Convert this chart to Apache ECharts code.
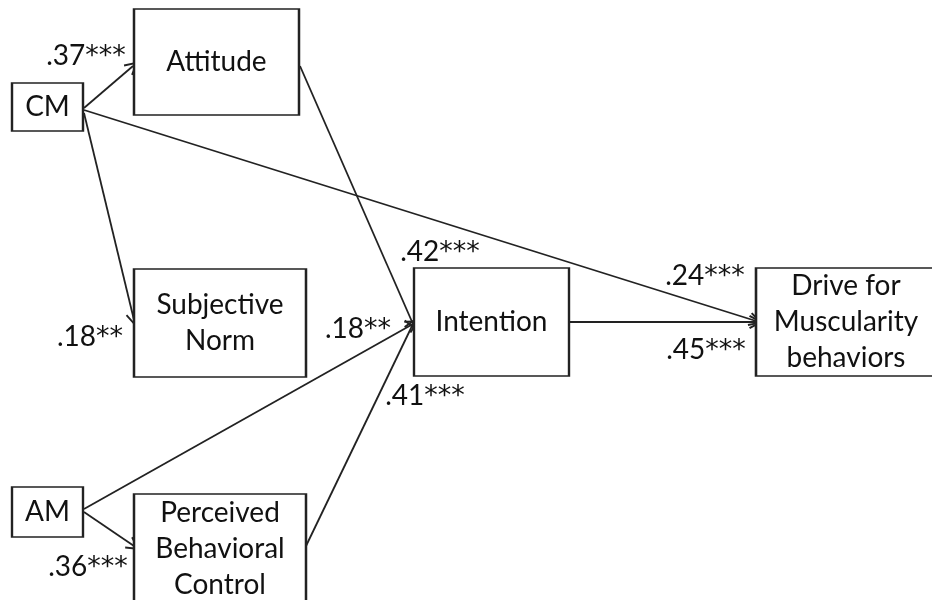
<!DOCTYPE html>
<html>
<head>
<meta charset="utf-8">
<script src="https://cdn.jsdelivr.net/npm/echarts@6/dist/echarts.min.js"></script>
<style>
  html, body { margin: 0; padding: 0; background: #fff; }
  #main { width: 932px; height: 600px; }
</style>
</head>
<body>
<div id="main"></div>
<script>
// variables in the path model
const nodeNames = ['CM', 'Attitude', 'Subjective\nNorm', 'AM', 'Perceived\nBehavioral\nControl', 'Intention', 'Drive for\nMuscularity\nbehaviors']
// paths (index into nodeNames) and their coefficients
const pathFrom = [0, 0, 3, 1, 3, 4, 0, 5]
const pathTo   = [1, 2, 4, 5, 5, 5, 6, 6]
const pathCoef = ['.37', '.18', '.36', '.42', '.18', '.41', '.24', '.45']
const pathStars = ['***', '**', '***', '***', '**', '***', '***', '***']

// layout (pixels): box [left, top, right, bottom]
const boxRects = [
    [12, 83, 83, 131],
    [134, 9, 299, 115],
    [134, 269, 306, 377],
    [12, 487, 83, 537],
    [134, 494, 306, 604],
    [414, 268, 569, 376],
    [756, 268, 936, 376]
]
// layout: start / end points of each path
const pathPoints = [
    [[84, 108], [133, 66]],
    [[84, 113], [134, 320]],
    [[84, 512], [134, 546]],
    [[300, 66], [413, 324]],
    [[84, 509], [413, 324]],
    [[306, 546], [413, 324]],
    [[84, 110], [756, 321]],
    [[569, 322], [756, 322]]
]
// layout: where each coefficient is written
const coefPos = [[86, 55], [90, 336], [88, 566], [440, 251], [358, 328], [425, 395], [705, 275], [706, 349]]

let font = 'Lato'
// open arrow head, tip up
let openArrow = 'path://M50,0 L100,88 L88,95 L50,26 L12,95 L0,88 Z'

let myChart = echarts.init(document.getElementById('main'))

let boxData = nodeNames.map(function (name, i) {
    let r = boxRects[i]
    return {
        name: name,
        value: [(r[0] + r[2]) / 2, (r[1] + r[3]) / 2],
        symbolSize: [r[2] - r[0], r[3] - r[1]]
    }
})

let lineData = pathFrom.map(function (f, i) {
    return { name: nodeNames[f] + '-' + nodeNames[pathTo[i]], coords: pathPoints[i] }
})

let coefData = pathCoef.map(function (c, i) {
    return { name: '{n|' + c + '}{s|' + pathStars[i] + '}', value: coefPos[i] }
})

let option = {
    animation: false,
    backgroundColor: '#fff',
    grid: { left: 0, right: 0, top: 0, bottom: 0 },
    xAxis: { type: 'value', min: 0, max: 932, show: false },
    yAxis: { type: 'value', min: 0, max: 600, inverse: true, show: false },
    series: [
        {
            type: 'lines',
            coordinateSystem: 'cartesian2d',
            silent: true,
            z: 1,
            symbol: ['none', openArrow],
            symbolSize: 14,
            lineStyle: { color: '#222', width: 1.8, opacity: 1, curveness: 0 },
            data: lineData
        },
        {
            type: 'scatter',
            silent: true,
            z: 2,
            symbol: 'rect',
            itemStyle: { color: '#fff', borderColor: '#222', borderWidth: 2, opacity: 1 },
            label: {
                show: true,
                position: 'inside',
                formatter: '{b}',
                color: '#111',
                fontFamily: font,
                fontSize: 28,
                lineHeight: 36
            },
            emphasis: { disabled: true },
            data: boxData
        },
        {
            type: 'scatter',
            silent: true,
            z: 3,
            symbolSize: 0,
            itemStyle: { opacity: 1 },
            label: {
                show: true,
                position: 'inside',
                formatter: '{b}',
                color: '#111',
                rich: {
                    n: { fontFamily: font, fontSize: 28, color: '#111', verticalAlign: 'bottom', lineHeight: 30 },
                    s: { fontFamily: 'DejaVu Sans', fontSize: 27, color: '#111', verticalAlign: 'bottom', lineHeight: 30 }
                }
            },
            emphasis: { disabled: true },
            data: coefData
        }
    ]
}
myChart.setOption(option)
</script>
</body>
</html>
